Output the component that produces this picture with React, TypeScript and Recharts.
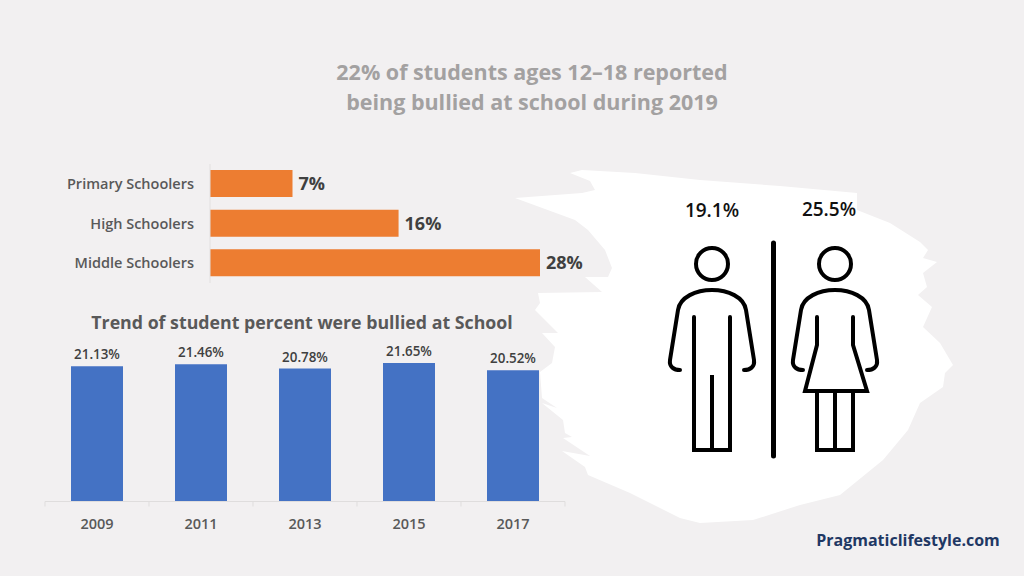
import { Bar, BarChart, LabelList, XAxis, YAxis } from "recharts";

const schoolLevels = ["Primary Schoolers", "High Schoolers", "Middle Schoolers"];
const schoolValues = [7, 16, 28];

const years = ["2009", "2011", "2013", "2015", "2017"];
const trendValues = [21.13, 21.46, 20.78, 21.65, 20.52];

const genderLabels = ["19.1%", "25.5%"];

const levelData = schoolLevels.map((level, i) => ({ level, value: schoolValues[i] }));
const trendData = years.map((year, i) => ({ year, value: trendValues[i] }));

const FONT = '"Open Sans", sans-serif';
const TREND_BAND = 104;

// white paint stroke behind the figures
const BRUSH =
  "M582 170 L635 173 L700 180 L780 186 L857 193 L857 210 L890 223 L920 242 L928 250 L923 258 L937 262 L923 273 L927 287 L918 295 L932 307 L923 327 L940 343 L953 365 L945 373 L943 387 L920 403 L908 430 L883 460 L840 495 L800 505 L753 520 L700 523 L680 518 L630 493 L588 475 L585 467 L562 451 L590 456 L563 438 L572 437 L565 433 L563 420 L542 403 L557 408 L542 398 L540 372 L552 363 L555 347 L542 333 L558 333 L535 310 L540 303 L538 293 L602 292 L585 277 L608 277 L612 268 L605 250 L588 230 L575 220 L515 198 L582 193 L595 190 L590 181 L570 173 Z";

function TrendTick(props: any) {
  const { x, y, payload, index } = props;
  const half = TREND_BAND / 2;
  return (
    <g>
      <line x1={x - half} x2={x - half} y1={y} y2={y + 5} stroke="#dfdddd" />
      {index === years.length - 1 && (
        <line x1={x + half} x2={x + half} y1={y} y2={y + 5} stroke="#dfdddd" />
      )}
      <text x={x} y={y + 27} textAnchor="middle" fontSize={14.5} fontWeight={600} fill="#595959" fontFamily={FONT}>
        {payload.value}
      </text>
    </g>
  );
}

function Figures() {
  const arms = "M680 370 C674 370 669 367 670 360 L678 310 C680 297 696 290 712 290 C728 290 744 297 746 310 L754 360 C755 367 750 370 744 370";
  return (
    <g fill="none" stroke="#000" strokeWidth={4}>
      <line x1={773.5} x2={773.5} y1={243} y2={456} strokeWidth={5} strokeLinecap="round" />
      <circle cx={712} cy={264} r={16} />
      <path d={arms} strokeLinecap="round" />
      <path d="M694 317 V450 H730 V317" strokeLinecap="round" />
      <path d="M712 375 V450" />
      <circle cx={835} cy={264} r={16} />
      <path d={arms} transform="translate(123 0)" strokeLinecap="round" />
      <path d="M817 317 V345 L805 391 H867 L853 345 V317" strokeLinecap="round" />
      <path d="M817 391 V450 H853 V391 M835 391 V450" />
    </g>
  );
}

export default function App() {
  return (
    <div style={{ position: "absolute", left: 0, top: 0, width: 1024, height: 576, background: "#f2f0f1", overflow: "hidden", fontFamily: FONT }}>
      <svg width={1024} height={576} style={{ position: "absolute", left: 0, top: 0 }}>
        <path d={BRUSH} fill="#fff" />
        <Figures />
        <g fontFamily={FONT} fontWeight={700} textAnchor="middle">
          <text x={532} y={79.5} fontSize={21.5} fill="#a3a1a1">22% of students ages 12–18 reported</text>
          <text x={532} y={110} fontSize={21.5} fill="#a3a1a1">being bullied at school during 2019</text>
          <text x={302} y={329} fontSize={17.75} fill="#595959">Trend of student percent were bullied at School</text>
          <text x={712} y={217} fontSize={19} fontWeight={600} fill="#111">{genderLabels[0]}</text>
          <text x={829} y={216} fontSize={19} fontWeight={600} fill="#111">{genderLabels[1]}</text>
          <text x={908} y={546} fontSize={16} fill="#1f3864">Pragmaticlifestyle.com</text>
        </g>
      </svg>

      <div style={{ position: "absolute", left: 0, top: 150 }}>
        <BarChart
          width={600}
          height={150}
          layout="vertical"
          data={levelData}
          margin={{ top: 14, right: 60, bottom: 17, left: 0 }}
        >
          <XAxis type="number" domain={[0, 28]} hide />
          <YAxis
            type="category"
            dataKey="level"
            width={210}
            axisLine={{ stroke: "#e2e0e0" }}
            tickLine={false}
            tickMargin={10}
            tick={{ fill: "#595959", fontSize: 14.5, fontWeight: 600, fontFamily: FONT }}
          />
          <Bar dataKey="value" fill="#ed7d31" barSize={27} isAnimationActive={false}>
            <LabelList
              dataKey="value"
              position="right"
              offset={6}
              formatter={(v: any) => `${v}%`}
              style={{ fill: "#404040", fontSize: 18, fontWeight: 700, fontFamily: FONT }}
            />
          </Bar>
        </BarChart>
      </div>

      <div style={{ position: "absolute", left: 0, top: 330 }}>
        <BarChart
          width={600}
          height={210}
          data={trendData}
          margin={{ top: 11.5, right: 35, bottom: 0, left: 45 }}
        >
          <XAxis
            dataKey="year"
            height={38.5}
            axisLine={{ stroke: "#dfdddd" }}
            tickLine={false}
            tickSize={0}
            tickMargin={0}
            interval={0}
            tick={<TrendTick />}
          />
          <YAxis domain={[0, 25]} hide />
          <Bar dataKey="value" fill="#4472c4" barSize={52} isAnimationActive={false}>
            <LabelList
              dataKey="value"
              position="top"
              offset={7}
              formatter={(v: any) => `${v.toFixed(2)}%`}
              style={{ fill: "#404040", fontSize: 13.4, fontWeight: 600, fontFamily: FONT }}
            />
          </Bar>
        </BarChart>
      </div>
    </div>
  );
}
